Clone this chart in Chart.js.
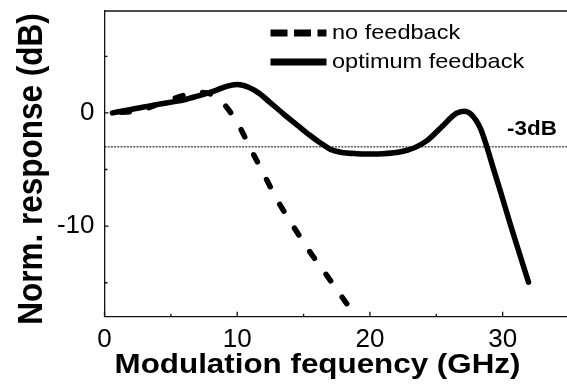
<!DOCTYPE html>
<html><head><meta charset="utf-8">
<script src="https://cdn.jsdelivr.net/npm/chart.js@4.4.1/dist/chart.umd.min.js"></script>
<style>html,body{margin:0;padding:0;background:#fff;overflow:hidden}#wrap{width:567px;height:388px}</style>
</head><body><div id="wrap"><canvas id="c" width="567" height="388"></canvas></div>
<script>
// ---- data ----
const noFbX = [0.6, 2.7, 4.9, 6.5, 7.4, 8.6, 10.0, 11.0, 12.0, 13.0, 14.15, 15.4, 16.75, 18.25];
const noFbY = [0.0, 0.25, 1.15, 1.7, 1.8, 1.25, -0.85, -3.15, -5.4, -7.66, -9.87, -12.14, -14.35, -16.85];
const optX = [0.6, 2.0, 4.0, 6.0, 7.2, 8.3, 9.2, 10.0, 10.9, 11.7, 12.4, 13.5, 14.6, 15.5, 16.3, 17.0, 17.8, 19.0, 20.0, 21.0, 22.0, 22.8, 23.5, 24.3, 25.4, 26.5, 27.1, 27.6, 28.3, 28.8, 29.3, 29.8, 30.7, 31.95];
const optY = [0.0, 0.3, 0.75, 1.15, 1.55, 1.95, 2.35, 2.5, 2.25, 1.7, 1.0, -0.1, -1.15, -2.0, -2.68, -3.2, -3.47, -3.6, -3.62, -3.6, -3.5, -3.3, -3.0, -2.45, -1.25, -0.05, 0.15, -0.1, -1.3, -2.95, -4.9, -6.8, -10.3, -14.95];
const refLevelDb = -3;
const xRange = [0, 34.85];
const yRange = [-18, 9];
const xTicks = [0, 10, 20, 30];
const xMinorTicks = [5, 15, 25];
const yTicks = [-10, 0];
const yMinorTicks = [-15, -5, 5];
const seriesLabels = ['no feedback', 'optimum feedback'];
const xTitle = 'Modulation fequency (GHz)';
const yTitle = 'Norm. response (dB)';
const refLabel = '-3dB';

const FAM = "'Liberation Sans', Arial, Helvetica, sans-serif";
const toPts = (xs, ys) => xs.map((x, i) => ({x, y: ys[i]}));

function stretchedText(ctx, str, x, y, font, sx, align) {
  ctx.save();
  ctx.translate(x, y);
  ctx.scale(sx, 1);
  ctx.font = font;
  ctx.textAlign = align || 'left';
  ctx.textBaseline = 'alphabetic';
  ctx.fillStyle = '#000';
  ctx.fillText(str, 0, 0);
  ctx.restore();
}

const decorPlugin = {
  id: 'decor',
  afterDraw(chart) {
    const ctx = chart.ctx, a = chart.chartArea;
    const xs = chart.scales.x, ys = chart.scales.y;
    ctx.save();
    ctx.strokeStyle = '#111';
    ctx.lineWidth = 1.3;
    // top frame line
    ctx.beginPath(); ctx.moveTo(a.left, a.top); ctx.lineTo(a.right, a.top); ctx.stroke();
    // inward tick marks
    ctx.beginPath();
    xTicks.forEach(v => { const p = xs.getPixelForValue(v); ctx.moveTo(p, a.bottom); ctx.lineTo(p, a.bottom - 5); });
    xMinorTicks.forEach(v => { const p = xs.getPixelForValue(v); ctx.moveTo(p, a.bottom); ctx.lineTo(p, a.bottom - 3); });
    yTicks.forEach(v => { const p = ys.getPixelForValue(v); ctx.moveTo(a.left, p); ctx.lineTo(a.left + 4, p); });
    yMinorTicks.forEach(v => { const p = ys.getPixelForValue(v); ctx.moveTo(a.left, p); ctx.lineTo(a.left + 3, p); });
    ctx.stroke();
    // legend
    const lx0 = a.left + 166, lx1 = a.left + 222;
    ctx.lineWidth = 7;
    ctx.strokeStyle = '#000';
    ctx.setLineDash([17, 6.5]);
    ctx.beginPath(); ctx.moveTo(lx0, a.top + 22); ctx.lineTo(lx1, a.top + 22); ctx.stroke();
    ctx.setLineDash([]);
    ctx.beginPath(); ctx.moveTo(lx0, a.top + 51); ctx.lineTo(lx1, a.top + 51); ctx.stroke();
    ctx.restore();
    stretchedText(ctx, seriesLabels[0], a.left + 227.5, a.top + 28.3, '21px ' + FAM, 1.12, 'left');
    stretchedText(ctx, seriesLabels[1], a.left + 227.5, a.top + 57.3, '21px ' + FAM, 1.12, 'left');
    // -3dB label
    stretchedText(ctx, refLabel, 532, ys.getPixelForValue(refLevelDb) - 12.3, 'bold 20px ' + FAM, 1.12, 'center');
    // axis titles
    stretchedText(ctx, xTitle, 317.5, 373.3, 'bold 28px ' + FAM, 1.12, 'center');
    ctx.save();
    ctx.translate(41.7, 169);
    ctx.scale(1.12, 1);
    ctx.rotate(-Math.PI / 2);
    ctx.font = 'bold 31.5px ' + FAM;
    ctx.textAlign = 'center';
    ctx.textBaseline = 'alphabetic';
    ctx.fillStyle = '#000';
    ctx.fillText(yTitle, 0, 0);
    ctx.restore();
  }
};

new Chart(document.getElementById('c'), {
  type: 'line',
  data: {
    datasets: [
      { label: seriesLabels[1], data: toPts(optX, optY), borderColor: '#000', borderWidth: 5.5,
        borderCapStyle: 'round', borderJoinStyle: 'round', pointRadius: 0, cubicInterpolationMode: 'monotone', fill: false },
      { label: seriesLabels[0], data: toPts(noFbX, noFbY), borderColor: '#000', borderWidth: 5.5,
        borderDash: [8, 20], borderDashOffset: 19, borderCapStyle: 'round', pointRadius: 0, cubicInterpolationMode: 'monotone', fill: false },
      { label: refLabel, data: [{x: xRange[0], y: refLevelDb}, {x: xRange[1], y: refLevelDb}], borderColor: '#000',
        borderWidth: 1, borderDash: [2, 1.2], pointRadius: 0, fill: false }
    ]
  },
  options: {
    responsive: false, animation: false, devicePixelRatio: 1,
    layout: { padding: { top: 11, left: 0, right: 0, bottom: 0 } },
    plugins: { legend: { display: false }, tooltip: { enabled: false } },
    scales: {
      x: {
        type: 'linear', min: xRange[0], max: xRange[1],
        afterBuildTicks: s => { s.ticks = xTicks.map(v => ({value: v})); },
        afterFit: s => { s.height = 71.3; s.paddingLeft = 0; s.paddingRight = 0; },
        grid: { display: false, drawTicks: false },
        border: { display: true, color: '#111', width: 1.3 },
        ticks: { color: '#000', padding: 8, font: { family: FAM, size: 26 }, maxRotation: 0 }
      },
      y: {
        type: 'linear', min: yRange[0], max: yRange[1],
        afterBuildTicks: s => { s.ticks = yTicks.map(v => ({value: v})); },
        afterFit: s => { s.width = 104.5; s.paddingTop = 0; s.paddingBottom = 0; },
        grid: { display: false, drawTicks: false },
        border: { display: true, color: '#111', width: 1.3 },
        ticks: { color: '#000', padding: 10, font: { family: FAM, size: 26 } }
      }
    }
  },
  plugins: [decorPlugin]
});
</script></body></html>
